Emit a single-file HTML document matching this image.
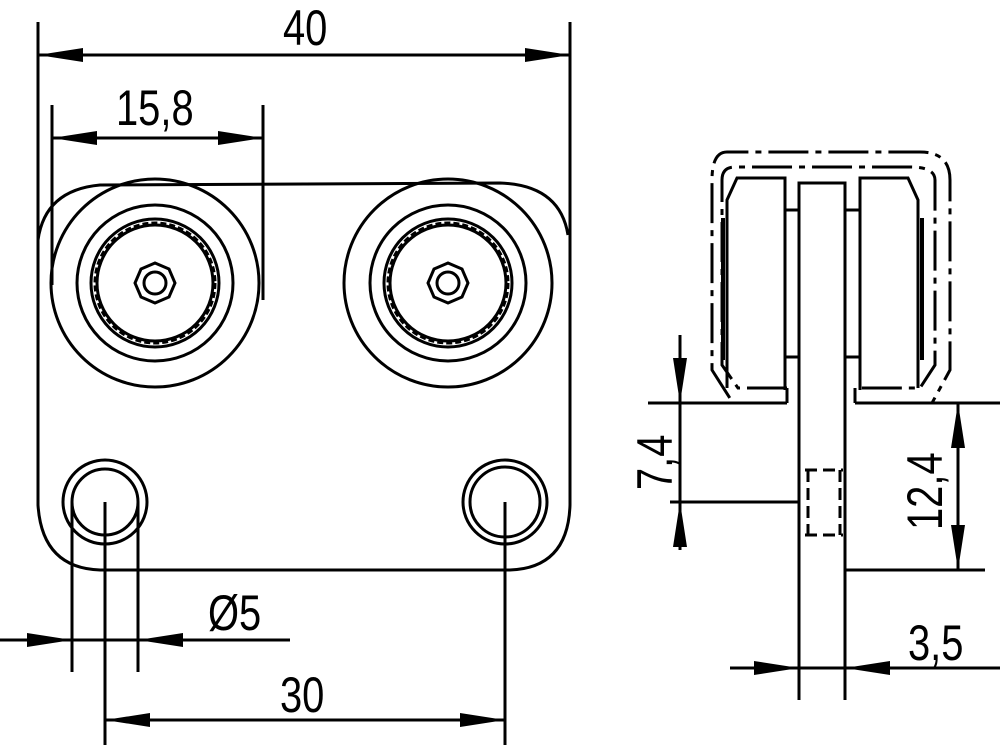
<!DOCTYPE html>
<html><head><style>html,body{margin:0;padding:0;background:#fff}svg{display:block}text{font-family:"Liberation Sans",sans-serif;font-size:42px;fill:#000}</style></head><body>
<svg width="1000" height="756" viewBox="0 0 1000 756" xmlns="http://www.w3.org/2000/svg">
<g stroke="#000" stroke-width="3" fill="none">
<path d="M38,22 V505 Q42,568 100,570 H510 Q568,568 570,505 V22"/>
<path d="M38,240 Q45,190 100,185 L500,183 Q560,185 568,235"/>
<circle cx="155" cy="283" r="104"/>
<circle cx="155" cy="283" r="78"/>
<circle cx="155" cy="283" r="64"/>
<circle cx="155" cy="283" r="60" stroke-dasharray="6 3"/>
<circle cx="155" cy="283" r="58"/>
<polygon points="155,263 169,269 175,283 169,297 155,303 141,297 135,283 141,269"/>
<circle cx="155" cy="283" r="11"/>
<circle cx="448" cy="283" r="104"/>
<circle cx="448" cy="283" r="78"/>
<circle cx="448" cy="283" r="64"/>
<circle cx="448" cy="283" r="60" stroke-dasharray="6 3"/>
<circle cx="448" cy="283" r="58"/>
<polygon points="448,263 462,269 468,283 462,297 448,303 434,297 428,283 434,269"/>
<circle cx="448" cy="283" r="11"/>
<circle cx="105" cy="502" r="42"/><circle cx="105" cy="502" r="33"/>
<circle cx="505" cy="502" r="42"/><circle cx="505" cy="502" r="35"/>
<line x1="38" y1="55" x2="570" y2="55"/>
<line x1="52" y1="105" x2="52" y2="285"/><line x1="263" y1="105" x2="263" y2="300"/>
<line x1="52" y1="138" x2="263" y2="138"/>
<line x1="72" y1="502" x2="72" y2="672"/><line x1="138" y1="502" x2="138" y2="672"/>
<line x1="0" y1="640" x2="290" y2="640"/>
<line x1="105" y1="502" x2="105" y2="745"/><line x1="505" y1="502" x2="505" y2="745"/>
<line x1="105" y1="720" x2="505" y2="720"/>

<path d="M799,700 V183 H845 V700"/>
<path d="M785,390 V178 H737 L727,200 V388"/>
<path d="M860,390 V178 H908 L918,200 V388"/>
<line x1="785" y1="210" x2="799" y2="210"/><line x1="785" y1="357" x2="799" y2="357"/>
<line x1="845" y1="210" x2="860" y2="210"/><line x1="845" y1="357" x2="860" y2="357"/>
<line x1="723" y1="218" x2="723" y2="360" stroke-width="4"/>
<line x1="922" y1="218" x2="922" y2="360" stroke-width="4"/>
<path d="M787,403 H733 L712,370 V180 Q712,152 727,152 H920 Q950,152 950,180 V370 L932,403 H855" stroke-dasharray="40 7 6 7"/>
<path d="M787,388 H738 L722,365 V180 Q722,167 735,167 H910 Q935,167 935,180 V365 L920,388 H855" stroke-dasharray="40 7 6 7"/>
<line x1="787" y1="388" x2="787" y2="403"/><line x1="855" y1="388" x2="855" y2="403"/>
<path d="M805,470 H843 M805,535 H843 M808,470 V535 M840,470 V535" stroke-dasharray="12 6"/>
<line x1="648" y1="403" x2="787" y2="403"/><line x1="855" y1="403" x2="1000" y2="403"/>
<line x1="670" y1="502" x2="799" y2="502"/>
<line x1="845" y1="570" x2="985" y2="570"/>
<line x1="680" y1="335" x2="680" y2="550"/>
<line x1="958" y1="403" x2="958" y2="570"/>
<line x1="730" y1="668" x2="1000" y2="668"/>
</g>
<g fill="#000">
<path d="M38,55 l45,-7 v14z M570,55 l-45,-7 v14z"/>
<path d="M52,138 l45,-7 v14z M263,138 l-45,-7 v14z"/>
<path d="M72,640 l-45,-7 v14z M138,640 l45,-7 v14z"/>
<path d="M105,720 l45,-7 v14z M505,720 l-45,-7 v14z"/>
<path d="M680,403 l-7,-45 h14z M680,502 l-7,45 h14z"/>
<path d="M958,403 l-7,45 h14z M958,570 l-7,-45 h14z"/>
<path d="M799,668 l-45,-7 v14z M845,668 l45,-7 v14z"/>
</g>
<text transform="translate(283,45) scale(0.95,1.2)">40</text>
<text transform="translate(116,125) scale(0.95,1.2)">15,8</text>
<text transform="translate(208,630) scale(0.95,1.2)">Ø5</text>
<text transform="translate(280,712) scale(0.95,1.2)">30</text>
<text transform="translate(908,660) scale(0.95,1.2)">3,5</text>
<text transform="translate(672,490) rotate(-90) scale(0.95,1.2)">7,4</text>
<text transform="translate(942,530) rotate(-90) scale(0.95,1.2)">12,4</text>
</svg>
</body></html>
